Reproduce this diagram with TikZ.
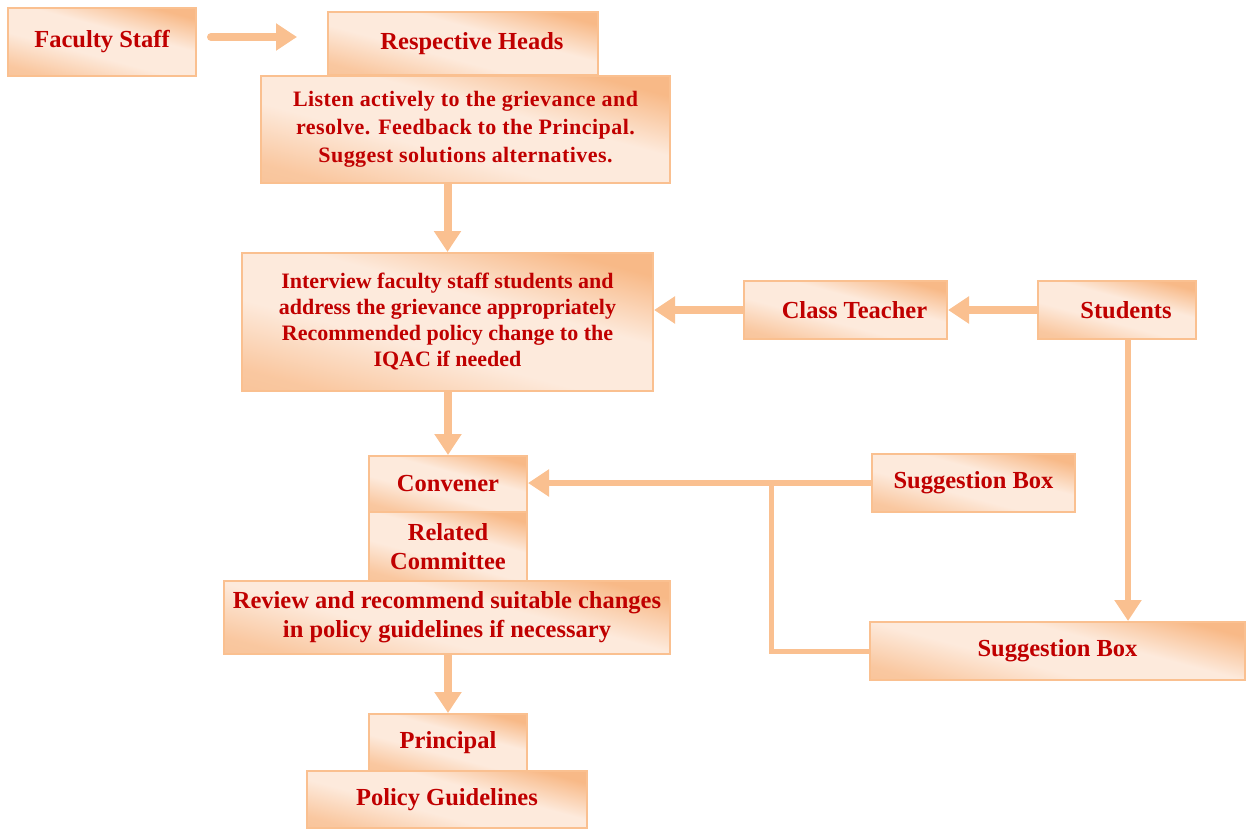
\documentclass[tikz,border=0pt]{standalone}
\usepackage{fontspec}
\setmainfont{Liberation Serif}
\usetikzlibrary{arrows.meta}

\definecolor{peachdark}{HTML}{F8B987}
\definecolor{peachlight}{HTML}{FDEADC}
\definecolor{peachline}{HTML}{FAC090}
\definecolor{boxred}{HTML}{C00000}
\pgfdeclareverticalshading{peach}{100bp}{color(0bp)=(peachdark); color(25bp)=(peachdark!70!peachlight); color(42bp)=(peachlight); color(58bp)=(peachlight); color(75bp)=(peachdark); color(100bp)=(peachdark)}

\tikzset{
	box/.style={draw=peachline, line width=2pt, shading=peach, shading angle=-15, inner sep=0pt, align=center, text=boxred, font=\fontsize{24.5}{29}\selectfont\bfseries},
	smalltext/.style={font=\fontsize{22}{26}\selectfont\bfseries},
	flow/.style={draw=peachline, line width=8pt, -{Triangle[length=21pt,width=26pt]}},
	feed/.style={draw=peachline, line width=5pt},
}

\begin{document}
\begin{tikzpicture}[x=1pt,y=-1pt]
		\useasboundingbox (0,0) rectangle (1246,829);

		\node (fac)[box, minimum width=188pt, minimum height=68pt] at (102,42)   {Faculty Staff};
		\node (resp)[box, minimum width=270pt, minimum height=63pt] at (463,43.5) {\hspace*{18pt}Respective Heads};
		\node (listen)[box, font=\addfontfeatures{LetterSpace=2}\fontsize{22}{28}\selectfont\bfseries, minimum width=409pt, minimum height=107pt] at (465.5,129.5) {Listen actively to the grievance and\\resolve. Feedback to the Principal.\\Suggest solutions alternatives.};

		\node (inter)[box, smalltext, minimum width=411pt, minimum height=138pt] at (447.5,322) {Interview faculty staff students and\\address the grievance appropriately\\Recommended policy change to the\\IQAC if needed};
		\node (cls)[box, minimum width=203pt, minimum height=58pt] at (845.5,310) {\hspace*{18pt}Class Teacher};
		\node (stud)[box, minimum width=158pt, minimum height=58pt] at (1117,310) {\hspace*{18pt}Students};

		\node (conv)[box, minimum width=158pt, minimum height=56pt] at (448,484)   {Convener};
		\node (rel)[box, minimum width=158pt, minimum height=69pt] at (448,546.5)  {Related\\Committee};
		\node (review)[box, minimum width=446pt, minimum height=73pt] at (447,617.5) {Review and recommend suitable changes\\in policy guidelines if necessary};

		\node (sug1)[box, minimum width=203pt, minimum height=58pt] at (973.5,483)  {Suggestion Box};
		\node (sug2)[box, minimum width=375pt, minimum height=58pt] at (1057.5,651) {Suggestion Box};

		\node (prin)[box, minimum width=158pt, minimum height=57pt] at (448,742.5)  {Principal};
		\node (pol)[box, minimum width=280pt, minimum height=57pt] at (447,799.5)   {Policy Guidelines};

		\coordinate (fa) at ([yshift=5pt]fac.east);
		\coordinate (sd) at ([xshift=11pt]stud.south);
		\coordinate (j) at (771,484);

		\draw[flow, line cap=round, shorten <=14pt, shorten >=30pt] (fa) -- (fa -| resp.west);
		\draw[flow] (listen.south -| inter.north) -- (inter.north);
		\draw[flow] (stud.west) -- (cls.east);
		\draw[flow] (cls.west) -- (cls.west -| inter.east);
		\draw[flow] (inter.south -| conv.north) -- (conv.north);
		\draw[flow, line width=6pt] (sug1.west) -- (sug1.west -| conv.east);
		\draw[feed] (sug2.west) -| (j);
		\draw[flow, line width=6pt] (sd) -- (sd |- sug2.north);
		\draw[flow] (review.south -| prin.north) -- (prin.north);
	\end{tikzpicture}
\end{document}
